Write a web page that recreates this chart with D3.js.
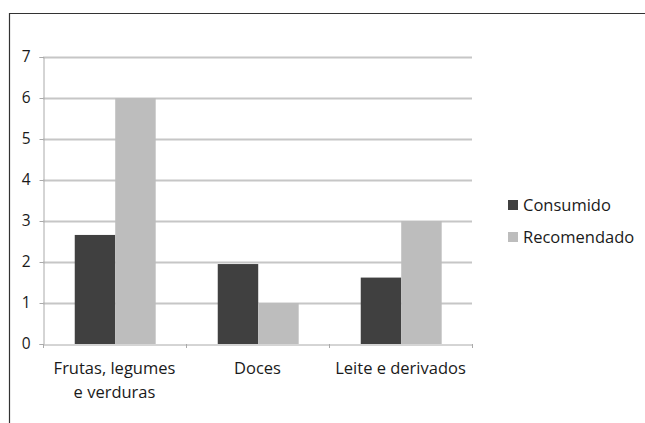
<!DOCTYPE html>
<html><head><meta charset="utf-8">
<script src="https://cdn.jsdelivr.net/npm/d3@7"></script>
<style>body{margin:0;background:#fff;}svg{display:block;}text{font-family:"Open Sans",Lato,sans-serif;fill:#1a1a1a;}</style>
</head><body>
<script>
const categories = [["Frutas, legumes","e verduras"],["Doces"],["Leite e derivados"]];
const categoryKeys = ["Frutas, legumes e verduras","Doces","Leite e derivados"];
const series = ["Consumido","Recomendado"];
const consumido = [2.66, 1.95, 1.62];
const recomendado = [6, 1, 3];
const yTicks = [0,1,2,3,4,5,6,7];
const colors = ["#404040","#bdbdbd"];

(function(){
const W=645,H=423;
const FONT='"Open Sans",Lato,sans-serif';
const svg=d3.select("body").append("svg").attr("width",W).attr("height",H);
// frame
svg.append("path").attr("d","M9.5,423V13.5H645").attr("fill","none").attr("stroke","#333").attr("stroke-width",1.2);

const mLeft=43,mRight=472,mTop=57,mBottom=344;
const y=d3.scaleLinear().domain([0,7]).range([mBottom,mTop]);
const x0=d3.scaleBand().domain(categoryKeys).range([mLeft,mRight]);
const x1=d3.scaleBand().domain(series).range([x0.bandwidth()*0.222,x0.bandwidth()*0.788]);

// gridlines
svg.append("g").selectAll("line").data(yTicks.filter(d=>d>0)).join("line")
 .attr("x1",mLeft).attr("x2",mRight).attr("y1",d=>Math.round(y(d))+0.5).attr("y2",d=>Math.round(y(d))+0.5)
 .attr("stroke","#c6c6c6").attr("stroke-width",2);

// y axis
const ya=svg.append("g").attr("transform",`translate(${mLeft+0.5},0)`)
 .call(d3.axisLeft(y).tickValues(yTicks).tickSize(4).tickPadding(9).tickFormat(d3.format("d")));
ya.select(".domain").attr("stroke","#aaa");
ya.selectAll(".tick line").attr("stroke","#aaa");
ya.selectAll("text").attr("font-size",15.5).style("font-family",FONT).attr("fill","#1a1a1a");

// bars
const data=categoryKeys.map((c,i)=>({c,vals:[consumido[i],recomendado[i]]}));
const g=svg.append("g").selectAll("g").data(data).join("g").attr("transform",d=>`translate(${x0(d.c)},0)`);
g.selectAll("rect").data(d=>d.vals.map((v,j)=>({s:series[j],v,j}))).join("rect")
 .attr("x",d=>x1(d.s)).attr("width",x1.bandwidth()).attr("y",d=>y(d.v)).attr("height",d=>y(0)-y(d.v))
 .attr("fill",d=>colors[d.j]);

// x axis
const xa=svg.append("g").attr("transform",`translate(0,${mBottom+0.5})`)
 .call(d3.axisBottom(x0).tickSize(0).tickFormat(""));
xa.select(".domain").attr("stroke","#aaa");
// category boundary ticks
svg.append("g").selectAll("line").data(categoryKeys.concat(["end"])).join("line")
 .attr("x1",(d,i)=>Math.round(i<3?x0(d):mRight)+0.5).attr("x2",(d,i)=>Math.round(i<3?x0(d):mRight)+0.5)
 .attr("y1",mBottom).attr("y2",mBottom+4).attr("stroke","#aaa");
// category labels
categories.forEach((lines,i)=>{
  const cx=x0(categoryKeys[i])+x0.bandwidth()/2;
  const t=svg.append("text").attr("x",cx).attr("y",mBottom+30)
   .attr("text-anchor","middle").attr("font-size",16.5);
  lines.forEach((l,k)=>t.append("tspan").attr("x",cx).attr("dy",k?24:0).text(l));
});

// legend
const lg=svg.append("g").selectAll("g").data(series).join("g").attr("transform",(d,i)=>`translate(508,${200+i*32})`);
lg.append("rect").attr("width",10).attr("height",10).attr("fill",(d,i)=>colors[i]);
lg.append("text").attr("x",15).attr("y",11).attr("font-size",16.5).text(d=>d);
})();
</script>
</body></html>
